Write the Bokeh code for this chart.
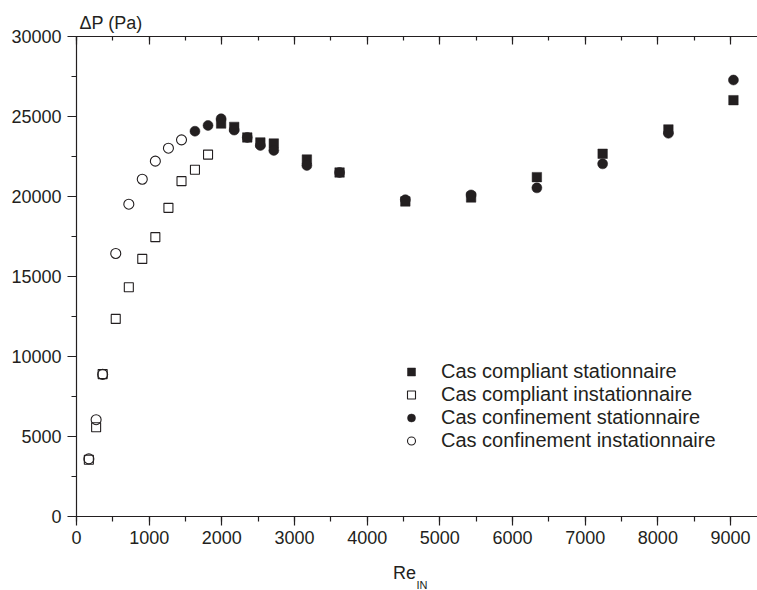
from bokeh.plotting import figure
from bokeh.models import (Range1d, LinearAxis, SingleIntervalTicker, Title,
                          Legend, LegendItem, CustomJSTickFormatter)
from bokeh.embed import file_html
from bokeh.resources import INLINE

# ---- data ----
re_comp_stat = [1990, 2170, 2350, 2530, 2715, 3170, 3620, 4525, 5430, 6335, 7240, 8145, 9040]
dp_comp_stat = [24560, 24350, 23690, 23380, 23310, 22310, 21500, 19690, 19940, 21210, 22670, 24190, 26020]

re_comp_inst = [170, 270, 360, 540, 720, 905, 1085, 1265, 1445, 1630, 1810]
dp_comp_inst = [3550, 5580, 8900, 12350, 14330, 16100, 17460, 19290, 20960, 21670, 22620]

re_conf_stat = [1630, 1810, 1990, 2170, 2350, 2530, 2715, 3170, 3620, 4525, 5430, 6335, 7240, 8145, 9040]
dp_conf_stat = [24080, 24440, 24860, 24150, 23690, 23190, 22880, 21940, 21500, 19800, 20100, 20540, 22040, 23950, 27280]

re_conf_inst = [170, 270, 360, 540, 720, 905, 1085, 1265, 1445]
dp_conf_inst = [3600, 6050, 8880, 16440, 19520, 21080, 22210, 23020, 23540]

series_names = ["Cas compliant stationnaire", "Cas compliant instationnaire",
                "Cas confinement stationnaire", "Cas confinement instationnaire"]
y_title = "ΔP (Pa)"
x_title = "Re"
x_title_sub = "IN"

INK = "#231f20"
FONT = "Liberation Sans"

p = figure(width=757, height=590, output_backend="svg", toolbar_location=None,
           x_range=Range1d(0, 9371), y_range=Range1d(0, 30000),
           min_border_left=76, min_border_right=0, min_border_top=36,
           min_border_bottom=74, title=None)
p.outline_line_color = None
p.grid.visible = False
p.background_fill_color = "white"
p.border_fill_color = "white"

xt = SingleIntervalTicker(interval=1000, num_minor_ticks=2)
yt = SingleIntervalTicker(interval=5000, num_minor_ticks=2)

for ax, tk in ((p.xaxis[0], xt), (p.yaxis[0], yt)):
    ax.ticker = tk
    ax.axis_line_color = INK
    ax.axis_line_width = 1.2
    ax.major_tick_line_color = INK
    ax.minor_tick_line_color = INK
    ax.major_tick_line_width = 1.2
    ax.minor_tick_line_width = 1.2
    ax.major_tick_in = 0
    ax.major_tick_out = 9
    ax.minor_tick_in = 0
    ax.minor_tick_out = 5
    ax.major_label_text_font = FONT
    ax.major_label_text_font_size = "18px"
    ax.major_label_text_color = INK
p.xaxis[0].major_label_standoff = 5
p.yaxis[0].major_label_standoff = 6

# x title: "Re" centred slightly left of the frame centre (padding with nbsp)
xa = p.xaxis[0]
xa.axis_label = x_title + "\u00a0" * 5
xa.axis_label_text_font = FONT
xa.axis_label_text_font_size = "18px"
xa.axis_label_text_font_style = "normal"
xa.axis_label_text_color = INK
xa.axis_label_standoff = 16

top = LinearAxis(ticker=SingleIntervalTicker(interval=1000, num_minor_ticks=2),
                 formatter=CustomJSTickFormatter(code="return ''"))
top.axis_line_color = INK
top.axis_line_width = 1.2
top.major_tick_line_color = INK
top.minor_tick_line_color = INK
top.major_tick_line_width = 1.2
top.minor_tick_line_width = 1.2
top.major_tick_in = 8
top.major_tick_out = 0
top.minor_tick_in = 4
top.minor_tick_out = 0
top.major_label_standoff = 0
top.major_label_text_font_size = "1px"
p.add_layout(top, "above")

ttl = Title(text=y_title, align="left", offset=3, text_font=FONT,
            text_font_size="18px", text_color=INK, text_font_style="normal",
            standoff=8)
p.add_layout(ttl, "above")

xl2 = Title(text=x_title_sub, align="left", offset=340, text_font=FONT,
            text_font_size="11px", text_color=INK, text_font_style="normal",
            vertical_align="top", standoff=-14)
p.add_layout(xl2, "below")

r1 = p.scatter(re_comp_stat, dp_comp_stat, marker="square", size=9.5,
               fill_color=INK, line_color=INK, line_width=0.5)
r2 = p.scatter(re_comp_inst, dp_comp_inst, marker="square", size=9,
               fill_color=None, line_color=INK, line_width=1.1)
r3 = p.scatter(re_conf_stat, dp_conf_stat, marker="circle", size=10,
               fill_color=INK, line_color=INK, line_width=0.5)
r4 = p.scatter(re_conf_inst, dp_conf_inst, marker="circle", size=10,
               fill_color=None, line_color=INK, line_width=1.1)

legend = Legend(items=[LegendItem(label=n, renderers=[r]) for n, r in
                       zip(series_names, [r1, r2, r3, r4])],
                location=(325, 64))
legend.border_line_color = None
legend.background_fill_alpha = 0
legend.padding = 0
legend.margin = 0
legend.spacing = 0
legend.glyph_width = 20
legend.glyph_height = 23
legend.label_height = 23
legend.label_standoff = 20
legend.label_text_font = FONT
legend.label_text_font_size = "20px"
legend.label_text_color = INK
p.add_layout(legend, "center")

open("out.html", "w").write(file_html(p, INLINE))
